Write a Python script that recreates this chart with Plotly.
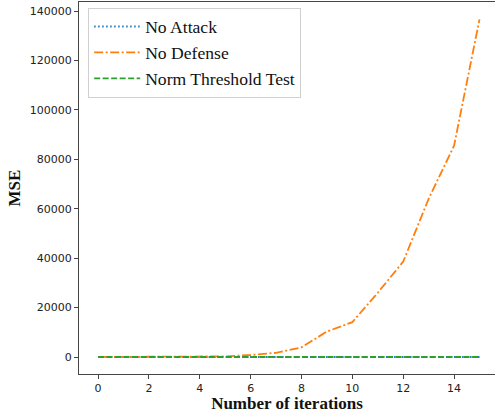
import plotly.graph_objects as go

iterations = list(range(16))
no_attack = [0, 0, 0, 0, 0, 0, 0, 0, 0, 0, 0, 0, 0, 0, 0, 0]
no_defense = [0, 5, 10, 20, 60, 250, 800, 1700, 3900, 10300, 14100, 26000, 38600, 64000, 85500, 136600]
norm_threshold = [0, 0, 0, 0, 0, 0, 0, 0, 0, 0, 0, 0, 0, 0, 0, 0]
y_ticks = [0, 20000, 40000, 60000, 80000, 100000, 120000, 140000]
y_tick_labels = ["0", "20000", "40000", "60000", "80000", "100000", "120000", "140000"]
x_ticks = [0, 2, 4, 6, 8, 10, 12, 14]

fig = go.Figure()
fig.add_trace(go.Scatter(x=iterations, y=no_attack, mode="lines", name="No Attack",
                         line=dict(color="#1f77b4", width=1.8, dash="1.5px,2.5px")))
fig.add_trace(go.Scatter(x=iterations, y=no_defense, mode="lines", name="No Defense",
                         line=dict(color="#ff7f0e", width=1.8, dash="9px,2.5px,2px,2.5px")))
fig.add_trace(go.Scatter(x=iterations, y=norm_threshold, mode="lines", name="Norm Threshold Test",
                         line=dict(color="#2ca02c", width=1.8, dash="6px,2.5px")))

axis_font = dict(family="DejaVu Sans", size=11, color="#222222")
title_font = dict(family="Liberation Serif", size=17, color="#111111")

fig.update_layout(
    width=495, height=413,
    margin=dict(l=79, r=0, t=2, b=39),
    paper_bgcolor="white", plot_bgcolor="white",
    showlegend=True,
    legend=dict(x=0.022, y=0.985, xanchor="left", yanchor="top",
                bgcolor="rgba(255,255,255,0.8)", bordercolor="#d0d0d0", borderwidth=1,
                font=dict(family="Liberation Serif", size=17.6, color="#111111"),
                itemwidth=46, tracegroupgap=0),
    xaxis=dict(range=[-0.75, 15.61], tickvals=x_ticks, ticks="outside", ticklen=4,
               tickcolor="#444444", showline=True, linecolor="#444444", linewidth=1.3,
               mirror=True, showgrid=False, zeroline=False, tickfont=axis_font,
               automargin=False,
               title=dict(text="<b>Number of iterations</b>", font=title_font, standoff=2)),
    yaxis=dict(range=[-6880, 143640], tickvals=y_ticks, ticktext=y_tick_labels,
               ticks="outside", ticklen=4,
               tickcolor="#444444", showline=True, linecolor="#444444", linewidth=1.3,
               showgrid=False, zeroline=False, tickfont=axis_font, automargin=False,
               title=dict(text="<b>MSE</b>", font=title_font, standoff=4)),
)

fig.write_html("out.html", config={"displayModeBar": False},
               post_script="document.body.style.margin='0';")
